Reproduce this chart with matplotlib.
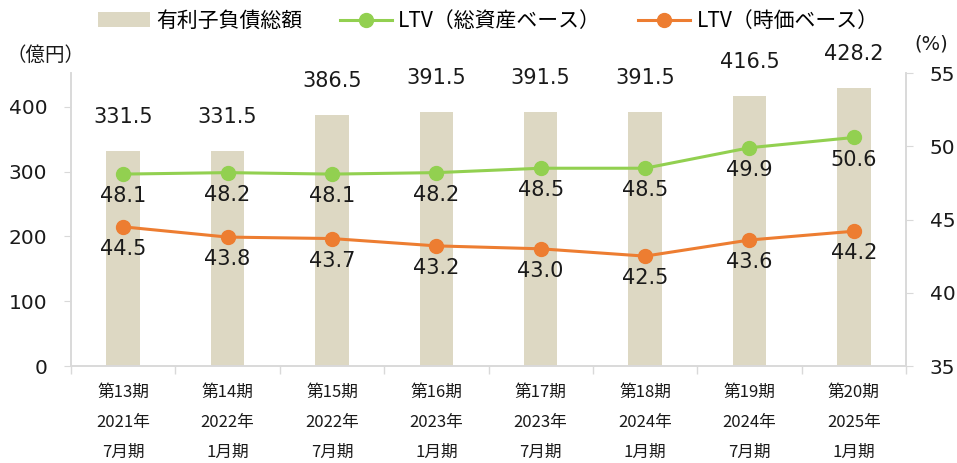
import matplotlib
matplotlib.use("Agg")
import matplotlib.pyplot as plt
import numpy as np

plt.rcParams["font.family"] = ["DejaVu Sans", "Noto Sans CJK JP"]
CJK = ["Noto Sans CJK JP", "DejaVu Sans"]

# --- data ---
PERIODS = ["第13期\n2021年\n7月期", "第14期\n2022年\n1月期", "第15期\n2022年\n7月期",
           "第16期\n2023年\n1月期", "第17期\n2023年\n7月期", "第18期\n2024年\n1月期",
           "第19期\n2024年\n7月期", "第20期\n2025年\n1月期"]
DEBT = [331.5, 331.5, 386.5, 391.5, 391.5, 391.5, 416.5, 428.2]
LTV_BOOK = [48.1, 48.2, 48.1, 48.2, 48.5, 48.5, 49.9, 50.6]
LTV_MARKET = [44.5, 43.8, 43.7, 43.2, 43.0, 42.5, 43.6, 44.2]

BAR_C = "#ddd8c3"
GREEN = "#92d050"
ORANGE = "#ed7d31"
AXIS_C = "#d9d9d9"
TXT = "#1a1a1a"

fig = plt.figure(figsize=(9.57, 4.63), dpi=100)
ax = fig.add_axes([0.0742, 0.2095, 0.8725, 0.6328])
ax2 = ax.twinx()

x = np.arange(len(PERIODS))
bars = ax.bar(x, DEBT, width=0.32, color=BAR_C, label="有利子負債総額", zorder=1)
ax.set_xlim(-0.5, len(PERIODS) - 0.5)
ax.set_ylim(0, 452)
ax.set_yticks([0, 100, 200, 300, 400])

for xi, v in zip(x, DEBT):
    ax.annotate(f"{v:.1f}", (xi, v), xytext=(0, 24.5), textcoords="offset points",
                ha="center", va="center", fontsize=15, color=TXT)

l1, = ax2.plot(x, LTV_BOOK, color=GREEN, linewidth=2.2, marker="o", markersize=10,
               label="LTV（総資産ベース）", zorder=3)
l2, = ax2.plot(x, LTV_MARKET, color=ORANGE, linewidth=2.2, marker="o", markersize=10,
               label="LTV（時価ベース）", zorder=3)
ax2.set_ylim(35, 55)
ax2.set_yticks([35, 40, 45, 50, 55])

for xi, v in zip(x, LTV_BOOK):
    ax2.annotate(f"{v:.1f}", (xi, v), xytext=(0, -16), textcoords="offset points",
                 ha="center", va="center", fontsize=15, color=TXT)
for xi, v in zip(x, LTV_MARKET):
    ax2.annotate(f"{v:.1f}", (xi, v), xytext=(0, -16), textcoords="offset points",
                 ha="center", va="center", fontsize=15, color=TXT)

# x axis: category boundaries as ticks, labels in the middle
ax.set_xticks(x)
ax.set_xticklabels(PERIODS, fontsize=12, color=TXT, linespacing=1.98, family=CJK)
ax.set_xticks(np.arange(-0.5, len(PERIODS)), minor=True)
ax.tick_params(axis="x", which="major", length=0, pad=13)
ax.tick_params(axis="x", which="minor", length=6, color=AXIS_C, width=1)

ax.tick_params(axis="y", labelsize=14.5, colors=TXT, length=5, color=AXIS_C, pad=12)
ax2.tick_params(axis="y", labelsize=14.5, colors=TXT, length=5, color=AXIS_C, pad=12)

for a in (ax, ax2):
    a.spines["top"].set_visible(False)
    for s in ("left", "right", "bottom"):
        a.spines[s].set_color(AXIS_C)
        a.spines[s].set_linewidth(1.2)

fig.text(0.048, 0.881, "（億円）", fontsize=14, color=TXT, ha="center", va="center",
         family=CJK)
fig.text(0.973, 0.905, "(%)", fontsize=14, color=TXT, ha="center", va="center")

fig.legend([bars, l1, l2], [bars.get_label(), l1.get_label(), l2.get_label()],
           loc="center", bbox_to_anchor=(0.51, 0.955), ncol=3, frameon=False,
           handlelength=2.5, columnspacing=1.8, handletextpad=0.3,
           prop={"family": CJK, "size": 15})

fig.savefig("out.png", dpi=100)
